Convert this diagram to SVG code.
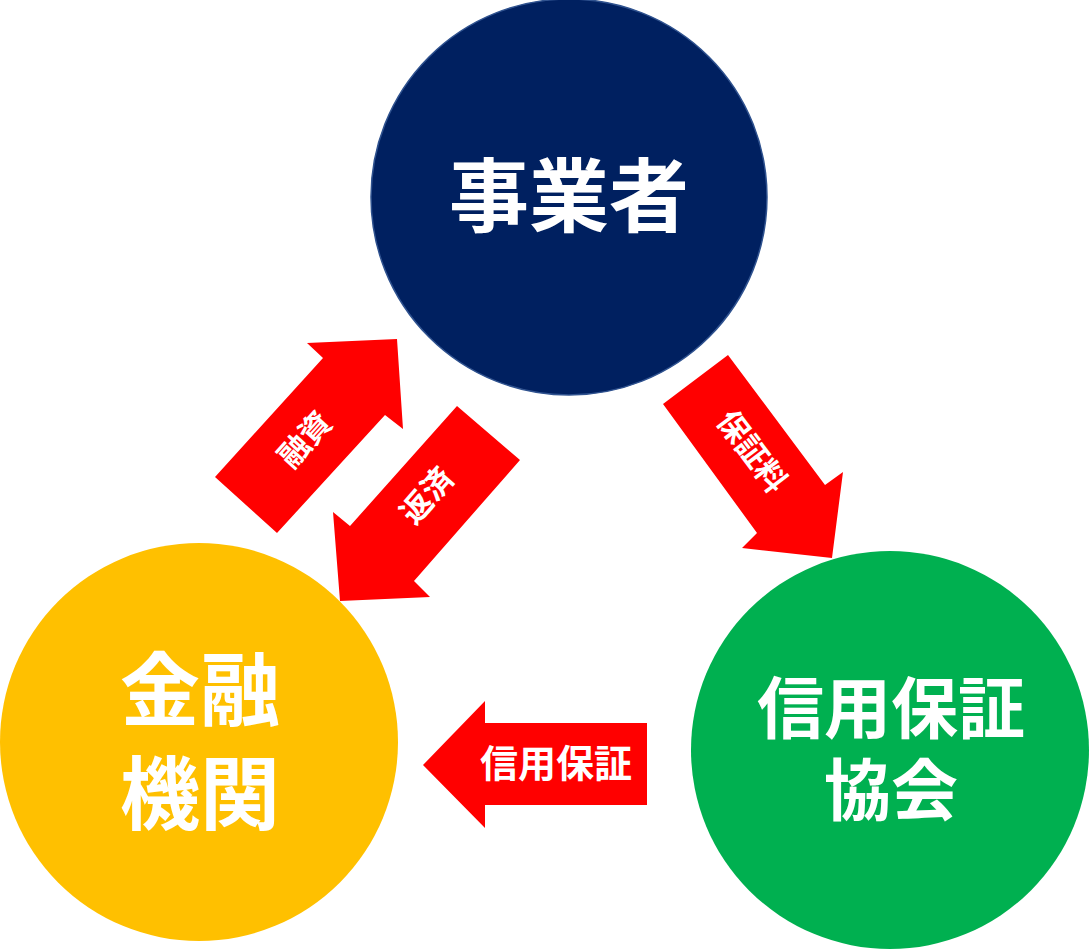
<svg xmlns="http://www.w3.org/2000/svg" width="1090" height="949" viewBox="0 0 1090 949">
<style>
.t{font-family:"Noto Sans CJK JP","Noto Sans CJK SC",sans-serif;font-weight:bold;fill:#fff;text-anchor:middle;dominant-baseline:central}
.a{fill:#FF0000}
</style>
<rect width="1090" height="949" fill="#fff"/>
<g id="connectors">
<g id="arrow-yushi">
<polygon class="a" points="397,339 403,429 385,415 277,533 215,477 323,358 307,343"/>
<text class="t" font-size="31" transform="translate(303,438) rotate(-48)">融資</text>
</g>
<g id="arrow-hensai">
<polygon class="a" points="340,601 430,597 414,581 520,460 457,406 350,526 333,512"/>
<text class="t" font-size="31" transform="translate(425,494) rotate(-49)">返済</text>
</g>
<g id="arrow-hoshoryo">
<polygon class="a" points="832,558 843,472 825,485 728,355 663,404 757,533 742,548"/>
<text class="t" font-size="31" transform="translate(754,450) rotate(53)">保証料</text>
</g>
<g id="arrow-shinyohosho">
<polygon class="a" points="423,765 485,701 485,723 647,723 647,805 485,805 485,828"/>
<text class="t" font-size="38" x="556" y="760">信用保証</text>
</g>
</g>
<g id="node-jigyosha">
<circle cx="569" cy="197" r="198" fill="#002060" stroke="#2F528F" stroke-width="1.5"/>
<text class="t" font-size="80" x="569" y="190">事業者</text>
</g>
<g id="node-kinyukikan">
<circle cx="199" cy="742" r="199" fill="#FFC000"/>
<text class="t" font-size="80"><tspan x="200" y="684">金融</tspan><tspan x="200" y="788">機関</tspan></text>
</g>
<g id="node-kyokai">
<circle cx="890" cy="750" r="199" fill="#00B050"/>
<text class="t" font-size="67"><tspan x="891" y="703">信用保証</tspan><tspan x="891" y="785">協会</tspan></text>
</g>
</svg>
